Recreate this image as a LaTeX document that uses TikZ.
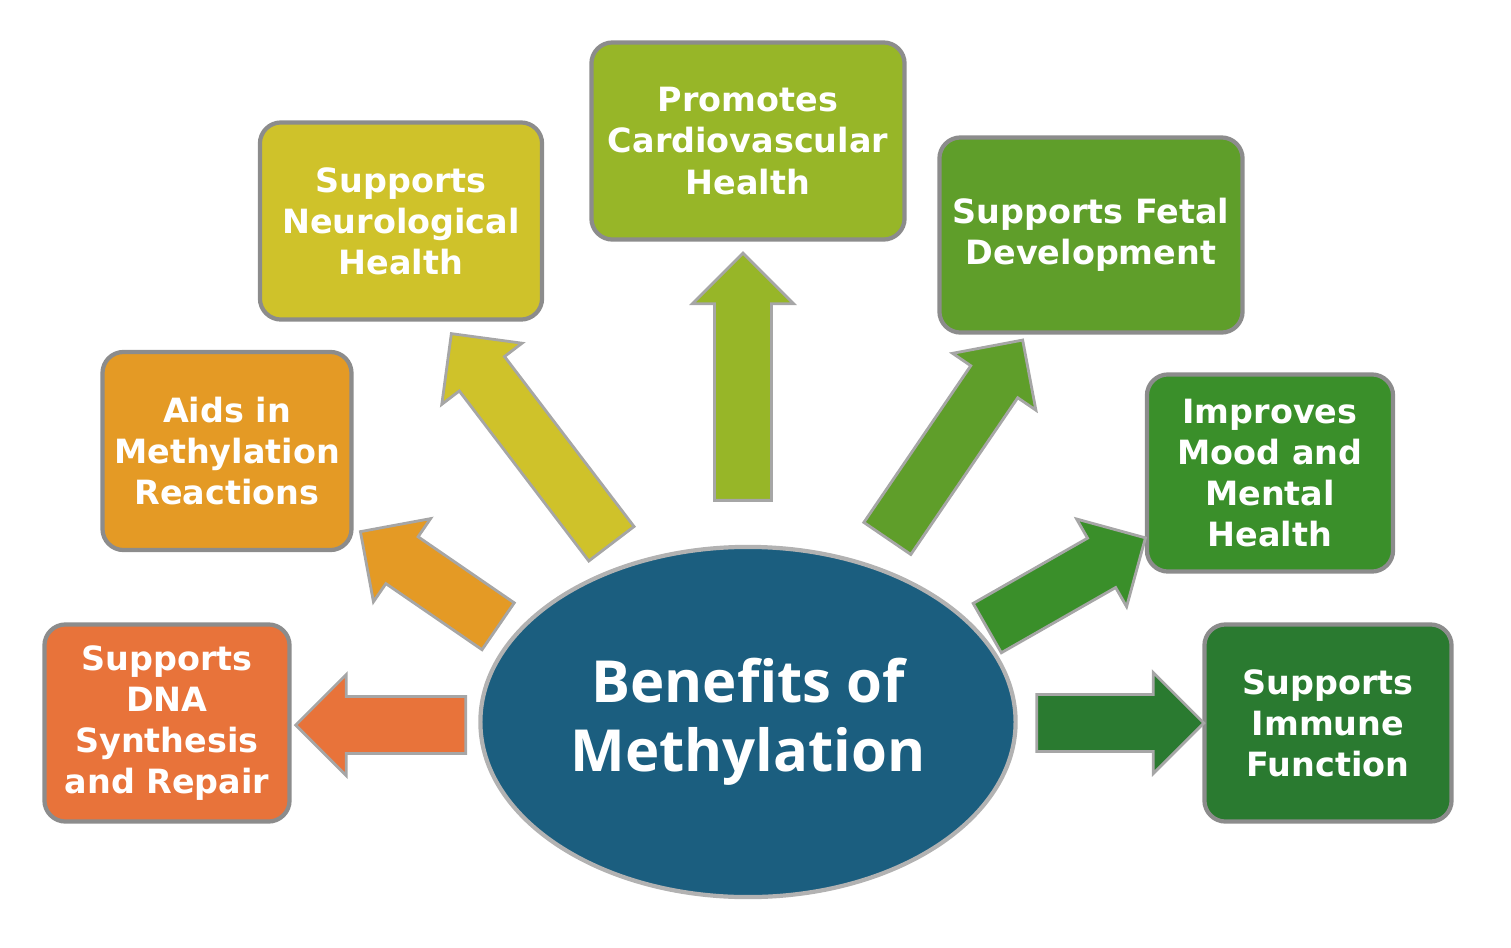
\documentclass[tikz,border=0pt]{standalone}
\usepackage{fontspec}
\setmainfont{DejaVu Sans}
\newfontfamily\titlefont{Open Sans}
\usetikzlibrary{shapes.arrows,shapes.geometric}

\definecolor{cDna}{HTML}{E8733A}
\definecolor{cMethyl}{HTML}{E49A25}
\definecolor{cNeuro}{HTML}{CFC22A}
\definecolor{cCardio}{HTML}{97B628}
\definecolor{cFetal}{HTML}{5F9E2A}
\definecolor{cMood}{HTML}{3A8F2A}
\definecolor{cImmune}{HTML}{2A7A30}
\definecolor{cCore}{HTML}{1B5E7F}

\tikzset{
  benefit/.style={rectangle,rounded corners=6pt,draw=black!45,line width=1.2pt,
    text=white,align=center,font=\bfseries\fontsize{9.5}{11.7}\selectfont},
  blockarrow/.style={single arrow,draw=black!35,line width=0.8pt,inner sep=0.27cm,
    single arrow head extend=0.22cm,single arrow head indent=0pt}
}

\begin{document}
\begin{tikzpicture}[x=0.01cm,y=-0.01cm]
  \useasboundingbox (0,0) rectangle (1511,948);

  % centre
  \node[ellipse,fill=cCore,draw=black!30,line width=1.2pt,minimum width=5cm,minimum height=3.5cm,
    text=white,align=center,font=\titlefont\bfseries\fontsize{16.5}{19.5}\selectfont] (core) at (748,722)
    {Benefits of\\Methylation};

  % boxes
  \node[benefit,fill=cDna,minimum width=2.45cm,minimum height=1.97cm] (dna) at (167,723)
    {Supports\\DNA\\Synthesis\\and Repair};
  \node[benefit,fill=cMethyl,minimum width=2.45cm,minimum height=1.98cm] (methyl) at (227,451)
    {Aids in\\Methylation\\Reactions};
  \node[benefit,fill=cNeuro,minimum width=2.82cm,minimum height=1.97cm] (neuro) at (401,221)
    {Supports\\Neurological\\Health};
  \node[benefit,fill=cCardio,minimum width=3.13cm,minimum height=1.97cm] (cardio) at (748,141)
    {Promotes\\Cardiovascular\\Health};
  \node[benefit,fill=cFetal,minimum width=3.03cm,minimum height=1.95cm] (fetal) at (1091,235)
    {Supports Fetal\\Development};
  \node[benefit,fill=cMood,minimum width=2.46cm,minimum height=1.97cm] (mood) at (1270,473)
    {Improves\\Mood and\\Mental\\Health};
  \node[benefit,fill=cImmune,minimum width=2.47cm,minimum height=1.97cm] (immune) at (1328,723)
    {Supports\\Immune\\Function};

  % arrows
  \foreach \name/\col/\x/\y/\ang/\len in {
      toDna/cDna/395/725/180/1.70,
      toMethyl/cMethyl/441/587/145.5/1.67,
      toNeuro/cNeuro/540/450/127.3/2.64,
      toCardio/cCardio/743/391/90/2.47,
      toFetal/cFetal/947/451/55.7/2.40,
      toMood/cMood/1054/590/29.7/1.82,
      toImmune/cImmune/1106/723/0/1.67}
    \node[blockarrow,fill=\col,rotate=\ang,minimum height=\len cm] (\name) at (\x,\y) {};
\end{tikzpicture}
\end{document}
